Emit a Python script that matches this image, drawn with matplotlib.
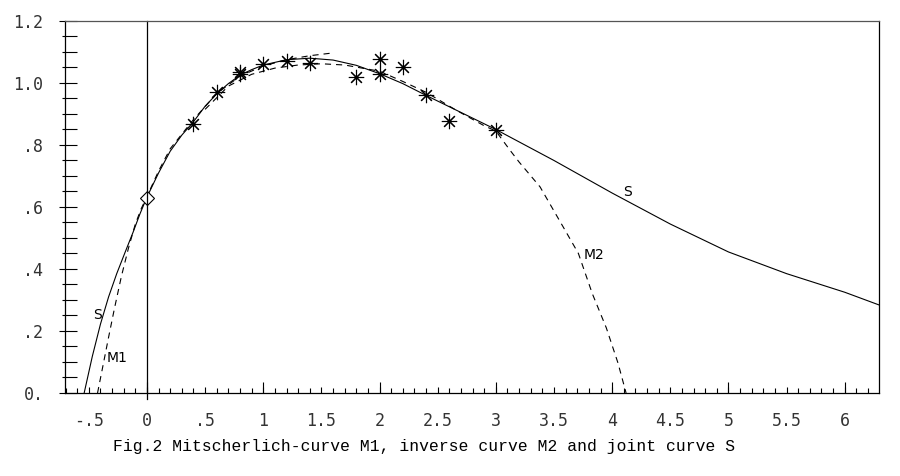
import matplotlib.pyplot as plt
from matplotlib.ticker import FixedLocator, FixedFormatter, MultipleLocator, NullFormatter

# measured points (asterisks)
obs_x = [0.4, 0.6, 0.8, 0.8, 1.0, 1.2, 1.4, 1.8, 2.0, 2.0, 2.2, 2.4, 2.6, 3.0]
obs_y = [0.868, 0.972, 1.036, 1.028, 1.061, 1.072, 1.063, 1.018, 1.077, 1.030, 1.050, 0.960, 0.877, 0.848]

# joint curve S
s_x = [-0.54, -0.47, -0.4, -0.33, -0.26, -0.19, -0.12, -0.06, 0.0, 0.1, 0.2, 0.3, 0.4, 0.5, 0.6, 0.7,
       0.8, 0.9, 1.0, 1.2, 1.4, 1.6, 1.8, 2.0, 2.2, 2.4, 2.7, 3.0, 3.5, 4.0, 4.5, 5.0, 5.5, 6.0, 6.295]
s_y = [0.0, 0.118, 0.222, 0.31, 0.385, 0.452, 0.518, 0.578, 0.632, 0.71, 0.78, 0.832, 0.875, 0.925, 0.965,
       0.998, 1.025, 1.043, 1.058, 1.075, 1.08, 1.074, 1.057, 1.03, 0.998, 0.96, 0.905, 0.85, 0.75, 0.645,
       0.545, 0.455, 0.385, 0.325, 0.284]

# Mitscherlich curve M1
m1_x = [-0.425, -0.38, -0.33, -0.28, -0.22, -0.16, -0.1, -0.05, 0.0, 0.1, 0.2, 0.4, 0.6, 0.8, 1.0,
        1.2, 1.4, 1.6]
m1_y = [0.0, 0.085, 0.18, 0.272, 0.376, 0.466, 0.545, 0.594, 0.634, 0.716, 0.788, 0.882, 0.966, 1.022,
        1.055, 1.075, 1.088, 1.097]

# inverse curve M2
m2_x = [0.5, 0.7, 0.9, 1.1, 1.3, 1.5, 1.7, 2.0, 2.2, 2.4, 2.66, 2.9, 3.0, 3.12, 3.2, 3.38, 3.58, 3.71,
        3.83, 3.95, 4.05, 4.12]
m2_y = [0.915, 0.99, 1.028, 1.048, 1.058, 1.062, 1.058, 1.038, 1.005, 0.97, 0.912, 0.862, 0.845, 0.784,
        0.745, 0.665, 0.535, 0.45, 0.32, 0.21, 0.097, 0.0]

diamond_x = [0.0]
diamond_y = [0.63]

xtick_vals = [-0.5, 0, 0.5, 1, 1.5, 2, 2.5, 3, 3.5, 4, 4.5, 5, 5.5, 6]
xtick_labels = ['-.5', '0', '.5', '1', '1.5', '2', '2.5', '3', '3.5', '4', '4.5', '5', '5.5', '6']
xtick_whole = [0, 1, 2, 3, 4, 5, 6]
ytick_vals = [0, 0.2, 0.4, 0.6, 0.8, 1.0, 1.2]
ytick_labels = ['0.', '.2', '.4', '.6', '.8', '1.0', '1.2']

curve_labels = [('S', -0.426, 0.25), ('M1', -0.258, 0.113), ('S', 4.136, 0.648), ('M2', 3.84, 0.445)]

fig = plt.figure(figsize=(9, 4.76), dpi=100)
ax = fig.add_axes([0.0722, 0.1744, 0.9045, 0.7815])

ax.plot(s_x, s_y, color='black', lw=0.8)
ax.plot(m1_x, m1_y, color='black', lw=0.8, dashes=(5.5, 4.5))
ax.plot(m2_x, m2_y, color='black', lw=0.8, dashes=(5.5, 4.5))
ax.plot(obs_x, obs_y, ls='none', marker=(8, 2, 0), ms=11, mew=0.8, color='black')
ax.plot(diamond_x, diamond_y, ls='none', marker='D', ms=7, mfc='white', mec='black', mew=0.8)

ax.axvline(0, ymin=-0.015, ymax=1, color='black', lw=0.9, clip_on=False)

for txt, tx, ty in curve_labels:
    ax.text(tx, ty, txt, ha='center', va='center', fontsize=10, family='DejaVu Sans')

ax.set_xlim(-0.705, 6.295)
ax.set_ylim(0, 1.2)

ax.xaxis.set_major_locator(FixedLocator(xtick_vals))
ax.xaxis.set_major_formatter(FixedFormatter(xtick_labels))
ax.xaxis.set_minor_locator(MultipleLocator(0.1))
ax.yaxis.set_major_locator(FixedLocator(ytick_vals))
ax.yaxis.set_major_formatter(FixedFormatter(ytick_labels))
ax.yaxis.set_minor_locator(MultipleLocator(0.05))

ax.tick_params(axis='x', which='major', direction='in', length=4.5, width=0.8, pad=13.5)
ax.tick_params(axis='x', which='minor', direction='in', length=3.6, width=0.8)
ax.tick_params(axis='y', which='major', direction='in', length=8.6, width=0.8, pad=15.5)
ax.tick_params(axis='y', which='minor', direction='in', length=8.6, width=0.8)

# taller ticks at whole numbers
sx = ax.secondary_xaxis('bottom')
sx.xaxis.set_major_locator(FixedLocator(xtick_whole))
sx.xaxis.set_major_formatter(NullFormatter())
sx.tick_params(axis='x', direction='in', length=8, width=0.8)
sx.spines['bottom'].set_visible(False)

# short stubs of the y ticks outside the frame
sy = ax.secondary_yaxis('left')
sy.yaxis.set_major_locator(FixedLocator(ytick_vals))
sy.yaxis.set_major_formatter(NullFormatter())
sy.yaxis.set_minor_locator(MultipleLocator(0.05))
sy.tick_params(axis='y', which='major', direction='out', length=4.3, width=0.8)
sy.tick_params(axis='y', which='minor', direction='out', length=2.2, width=0.8)
sy.spines['left'].set_visible(False)

for lab in ax.get_xticklabels() + ax.get_yticklabels():
    lab.set_family('DejaVu Sans Mono')
    lab.set_fontsize(12)
    lab.set_color('#333333')

for sp in ax.spines.values():
    sp.set_linewidth(0.9)
ax.spines['top'].set_color('#555555')

fig.text(424 / 900, 1 - 446 / 476, 'Fig.2 Mitscherlich-curve M1, inverse curve M2 and joint curve S',
         ha='center', va='center', fontsize=11.8, family='Liberation Mono')

fig.savefig('out.png', dpi=100)
